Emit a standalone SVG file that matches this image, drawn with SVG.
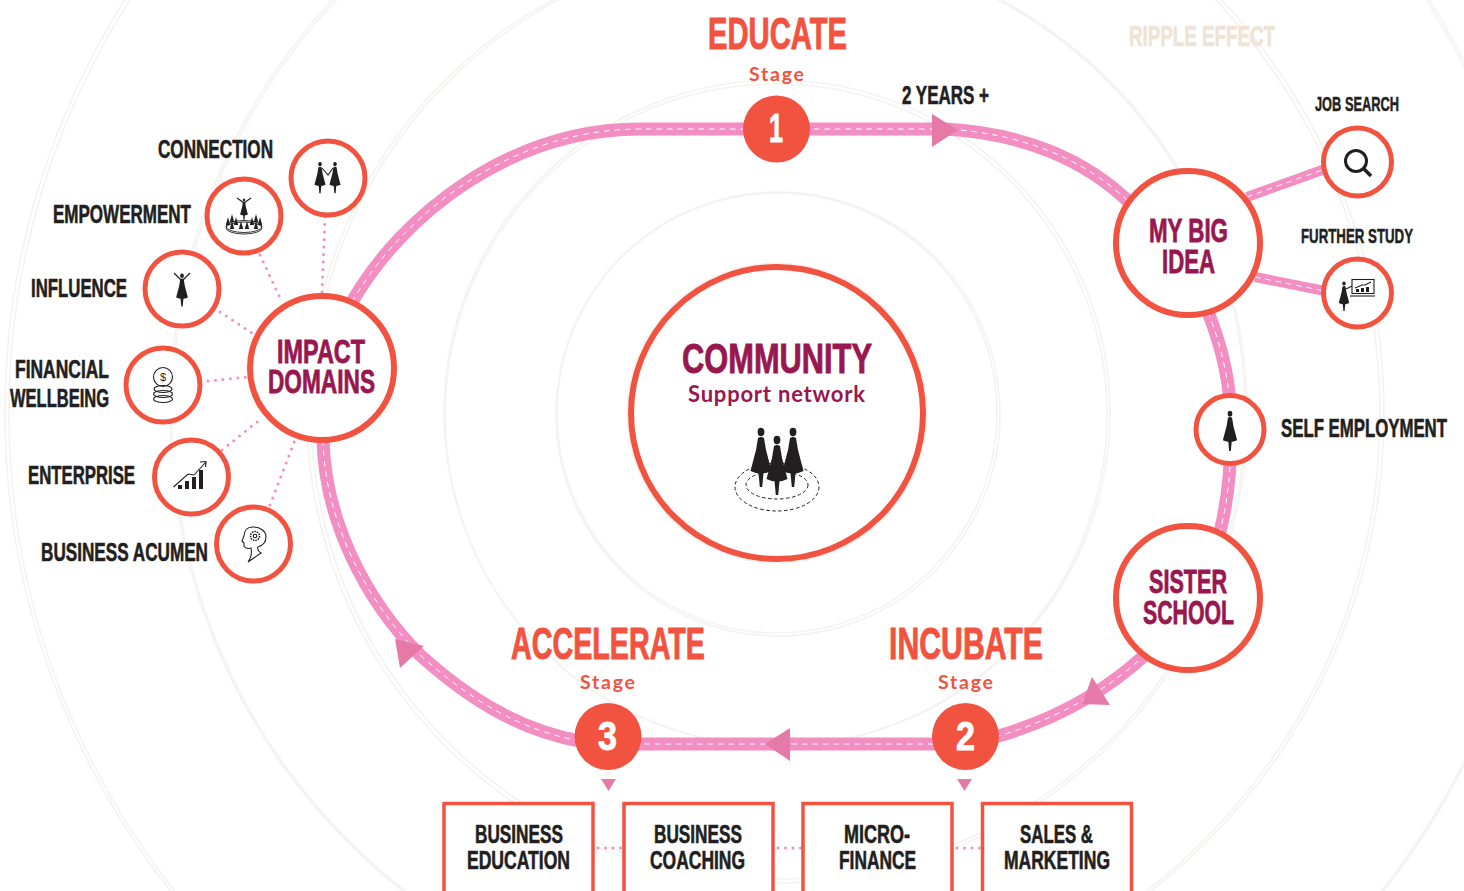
<svg xmlns="http://www.w3.org/2000/svg" xmlns:xlink="http://www.w3.org/1999/xlink" width="1464" height="891" viewBox="0 0 1464 891">
<style>
.rip{fill:none;stroke:#f4f3f1;stroke-width:1.7}
.road{fill:none;stroke:#f28ec1;stroke-width:13}
.dash{fill:none;stroke:#fff;stroke-width:1;stroke-dasharray:5.5 5}
.dot{fill:none;stroke:#f28ec1;stroke-width:3;stroke-linecap:round;stroke-dasharray:0 7.5}
.arr{fill:#e579a8}
.big{fill:#fff;stroke:#f15340;stroke-width:6}
.sm{fill:#fff;stroke:#f15340;stroke-width:5}
.st{fill:#f15340}
.box{fill:#fff;stroke:#f15340;stroke-width:3.5}
text{font-family:"Liberation Sans Narrow","Liberation Sans",Arial,sans-serif;font-weight:700}
.lb{font-size:25px;fill:#231f20;stroke:#231f20;stroke-width:.6}
.lbs{font-size:20px;fill:#231f20;stroke:#231f20;stroke-width:.5}
.hd{font-size:44px;fill:#f15340;stroke:#f15340;stroke-width:.9}
.nd{font-size:33px;fill:#98174f;stroke:#98174f;stroke-width:.8}
.sg{font-family:Lato,"Noto Sans",sans-serif;font-size:19.5px;fill:#f15340;font-weight:700}
.num{font-size:41px;fill:#fff;stroke:#fff;stroke-width:.9}
.ic{fill:#231f20}
.il{fill:none;stroke:#231f20;stroke-width:1.1}
</style>
<defs>
<g id="woman"><ellipse cx="0" cy="4" rx="3.400" ry="4.200"/><path d="M-3,10Q0,8 3,10L5,22L10.500,43Q0,48 -10.500,43L-5,22Z"/><path d="M-2.600,44L2.600,44L1.200,59L-1.200,59Z"/></g>
<path id="mini" d="M0,-7L2.200,1L-2.200,1Z"/>
</defs>

<g id="ripples">
<circle class="rip" cx="777" cy="413" r="150"/>
<circle class="rip" cx="777" cy="413" r="220"/><circle class="rip" cx="778" cy="414" r="222"/>
<circle class="rip" cx="777" cy="413" r="333"/><circle class="rip" cx="776" cy="415" r="331"/>
<circle class="rip" cx="777" cy="413" r="470"/><circle class="rip" cx="778" cy="412" r="467"/>
<circle class="rip" cx="777" cy="413" r="607"/><circle class="rip" cx="776" cy="414" r="604"/>
<circle class="rip" cx="777" cy="413" r="772"/><circle class="rip" cx="778" cy="414" r="769"/>
</g>

<g id="connectors">
<path class="road" d="M352,302C402,215 510,129 640,129L945,129C1020,133 1085,158 1132,205"/>
<path class="dash" d="M352,302C402,215 510,129 640,129L945,129C1020,133 1085,158 1132,205"/>
<path class="road" d="M1208,312C1224,352 1232,395 1231,432C1231,470 1228,500 1220,532"/>
<path class="dash" d="M1208,312C1224,352 1232,395 1231,432C1231,470 1228,500 1220,532"/>
<path class="road" d="M1146,654C1105,692 1055,720 995,737"/>
<path class="dash" d="M1146,654C1105,692 1055,720 995,737"/>
<path class="road" d="M965,744L608,744"/>
<path class="dash" d="M965,744L608,744"/>
<path class="road" d="M323,440C325,520 365,600 420,655C470,700 520,730 580,741"/>
<path class="dash" d="M323,440C325,520 365,600 420,655C470,700 520,730 580,741"/>
<path class="road" style="stroke-width:10" d="M1247,197L1325,169"/>
<path class="dash" d="M1247,197L1325,169"/>
<path class="road" style="stroke-width:10" d="M1255,277L1325,291"/>
<path class="dash" d="M1255,277L1325,291"/>
<path class="dot" d="M325,217L322,293"/>
<path class="dot" d="M260,255L282,302"/>
<path class="dot" d="M220,312L252,333"/>
<path class="dot" d="M208,381L247,377"/>
<path class="dot" d="M222,450L262,418"/>
<path class="dot" d="M270,505L295,440"/>
<path class="dot" d="M598,848L622,848"/>
<path class="dot" d="M778,848L801,848"/>
<path class="dot" d="M957,848L981,848"/>
<path class="arr" d="M932,114L932,147L958,130Z"/>
<path class="arr" d="M1092,677L1110,705L1082,704Z"/>
<path class="arr" d="M765,744L790,728L790,761Z"/>
<path class="arr" d="M395,639L424,646L400,668Z"/>
<path class="arr" d="M601,779L616,779L608.500,791Z"/>
<path class="arr" d="M957,779L972,779L964.500,791Z"/>
</g>

<g id="community">
<circle class="big" cx="777" cy="413" r="146"/>
<text x="682" y="373" style="font-size:43px;fill:#98174f;stroke:#98174f;stroke-width:.9" textLength="190" lengthAdjust="spacingAndGlyphs">COMMUNITY</text>
<text x="688" y="402" class="sg" style="font-size:22px;fill:#98174f" textLength="177">Support network</text>
<ellipse cx="777" cy="487" rx="42" ry="24" fill="none" stroke="#231f20" stroke-width="1" stroke-dasharray="3.500 2.500"/>
<ellipse cx="777" cy="485" rx="31" ry="14" fill="none" stroke="#231f20" stroke-width="1" stroke-dasharray="3.500 2.500"/>
<g class="ic"><use xlink:href="#woman" href="#woman" x="761" y="428"/><use xlink:href="#woman" href="#woman" x="793" y="428"/><use xlink:href="#woman" href="#woman" x="777" y="436"/></g>
</g>

<g id="impact-domains">
<circle class="big" cx="322" cy="368" r="72"/>
<text x="277" y="363" class="nd" textLength="88" lengthAdjust="spacingAndGlyphs">IMPACT</text>
<text x="268" y="393" class="nd" textLength="107" lengthAdjust="spacingAndGlyphs">DOMAINS</text>
</g>
<g id="my-big-idea">
<circle class="big" cx="1188" cy="243" r="72"/>
<text x="1149" y="242" class="nd" textLength="79" lengthAdjust="spacingAndGlyphs">MY BIG</text>
<text x="1162" y="273" class="nd" textLength="53" lengthAdjust="spacingAndGlyphs">IDEA</text>
</g>
<g id="sister-school">
<circle class="big" cx="1188" cy="598" r="72"/>
<text x="1149" y="593" class="nd" textLength="78" lengthAdjust="spacingAndGlyphs">SISTER</text>
<text x="1143" y="624" class="nd" textLength="91" lengthAdjust="spacingAndGlyphs">SCHOOL</text>
</g>

<g id="educate">
<text x="708" y="49" class="hd" textLength="139" lengthAdjust="spacingAndGlyphs">EDUCATE</text>
<text x="749" y="81" class="sg" textLength="55">Stage</text>
<circle class="st" cx="776.500" cy="129" r="33.500"/>
<text x="769" y="142" class="num" textLength="14" lengthAdjust="spacingAndGlyphs">1</text>
</g>
<g id="incubate">
<text x="889" y="659" class="hd" textLength="154" lengthAdjust="spacingAndGlyphs">INCUBATE</text>
<text x="938" y="689" class="sg" textLength="55">Stage</text>
<circle class="st" cx="965.500" cy="736.500" r="33.500"/>
<text x="956" y="750" class="num" textLength="19" lengthAdjust="spacingAndGlyphs">2</text>
</g>
<g id="accelerate">
<text x="511" y="659" class="hd" textLength="194" lengthAdjust="spacingAndGlyphs">ACCELERATE</text>
<text x="580" y="689" class="sg" textLength="55">Stage</text>
<circle class="st" cx="608" cy="736.500" r="33.500"/>
<text x="598" y="750" class="num" textLength="19" lengthAdjust="spacingAndGlyphs">3</text>
</g>

<text id="ripple-effect" x="1129" y="46" style="font-size:30px;fill:#efe3d6;stroke:#efe3d6;stroke-width:.7" textLength="146" lengthAdjust="spacingAndGlyphs">RIPPLE EFFECT</text>
<text id="years" x="902" y="104" class="lb" textLength="87" lengthAdjust="spacingAndGlyphs">2 YEARS +</text>

<g id="connection">
<circle class="sm" cx="328" cy="178" r="37"/>
<text x="158" y="158" class="lb" textLength="115" lengthAdjust="spacingAndGlyphs">CONNECTION</text>
<g class="ic" transform="translate(320,162) scale(.53)"><use xlink:href="#woman" href="#woman"/></g>
<g class="ic" transform="translate(335,162) scale(.53)"><use xlink:href="#woman" href="#woman"/></g>
<path class="il" d="M322,168L328,175L333,168"/>
</g>
<g id="empowerment">
<circle class="sm" cx="244" cy="216" r="37"/>
<text x="53" y="223" class="lb" textLength="138" lengthAdjust="spacingAndGlyphs">EMPOWERMENT</text>
<g class="ic" transform="translate(244,198.500) scale(.37)"><use xlink:href="#woman" href="#woman"/></g>
<path class="il" d="M244,203L237,198M244,203L251,198"/>
<ellipse cx="244" cy="226.500" rx="18" ry="6" fill="none" stroke="#231f20" stroke-width=".9"/>
<ellipse cx="244" cy="228" rx="18" ry="6" fill="none" stroke="#231f20" stroke-width=".9"/>
<g class="ic">
<use href="#mini" xlink:href="#mini" x="228" y="224"/><use href="#mini" xlink:href="#mini" x="232" y="221"/><use href="#mini" xlink:href="#mini" x="236" y="224"/><use href="#mini" xlink:href="#mini" x="241" y="228"/><use href="#mini" xlink:href="#mini" x="247" y="228"/><use href="#mini" xlink:href="#mini" x="252" y="224"/><use href="#mini" xlink:href="#mini" x="256" y="221"/><use href="#mini" xlink:href="#mini" x="260" y="224"/><use href="#mini" xlink:href="#mini" x="232" y="228"/><use href="#mini" xlink:href="#mini" x="256" y="228"/>
</g>
</g>
<g id="influence">
<circle class="sm" cx="182" cy="289" r="37"/>
<text x="31" y="297" class="lb" textLength="96" lengthAdjust="spacingAndGlyphs">INFLUENCE</text>
<g class="ic" transform="translate(182,273.500) scale(.56)"><use xlink:href="#woman" href="#woman"/></g>
<path d="M182,281L174,273M182,281L190,273" fill="none" stroke="#231f20" stroke-width="1.200"/>
</g>
<g id="financial-wellbeing">
<circle class="sm" cx="163" cy="385" r="37"/>
<text x="15" y="378" class="lb" textLength="94" lengthAdjust="spacingAndGlyphs">FINANCIAL</text>
<text x="10" y="407" class="lb" textLength="99" lengthAdjust="spacingAndGlyphs">WELLBEING</text>
<circle class="il" cx="163" cy="377" r="9.500"/>
<text x="163" y="381" text-anchor="middle" style="font-family:'Liberation Sans',sans-serif;font-weight:400;font-size:11px;fill:#231f20">$</text>
<ellipse class="il" cx="163" cy="389" rx="9" ry="3.500"/><ellipse class="il" cx="163" cy="394" rx="9.500" ry="3.500"/><ellipse class="il" cx="163" cy="399" rx="9.500" ry="3.500"/>
</g>
<g id="enterprise">
<circle class="sm" cx="191.500" cy="477" r="37"/>
<text x="28" y="484" class="lb" textLength="107" lengthAdjust="spacingAndGlyphs">ENTERPRISE</text>
<path class="ic" d="M178,489V485H182V489ZM185,489V481H189V489ZM192,489V477H196V489ZM199,489V470H203V489Z"/>
<path class="il" d="M173.500,487L188,474L194,475L206,462M200,462L206,461.500L205.500,467"/>
</g>
<g id="business-acumen">
<circle class="sm" cx="253.500" cy="544" r="37"/>
<text x="41" y="561" class="lb" textLength="167" lengthAdjust="spacingAndGlyphs">BUSINESS ACUMEN</text>
<path class="il" d="M248,562L261,553C258,551 257,549 258,547C264,545 266,541 266,537C266,531 260,527 253,527C247,527 244,531 244,536L242,541L244,543L244,546C245,548 248,549 251,548C252,553 251,558 248,562Z"/>
<circle cx="255" cy="536" r="4.500" fill="none" stroke="#231f20" stroke-width="1.500" stroke-dasharray="1.500 1"/>
<circle class="il" cx="255" cy="536" r="1.800"/>
</g>
<g id="job-search">
<circle class="sm" cx="1357.500" cy="162" r="34"/>
<text x="1315" y="111" class="lbs" textLength="84" lengthAdjust="spacingAndGlyphs">JOB SEARCH</text>
<circle cx="1356" cy="161" r="10.500" fill="none" stroke="#231f20" stroke-width="3"/>
<path d="M1364,169L1371,176" stroke="#231f20" stroke-width="3.500" fill="none"/>
</g>
<g id="further-study">
<circle class="sm" cx="1357.500" cy="293" r="34"/>
<text x="1301" y="243" class="lbs" textLength="112" lengthAdjust="spacingAndGlyphs">FURTHER STUDY</text>
<g class="ic" transform="translate(1344,281.500) scale(.5)"><use xlink:href="#woman" href="#woman"/></g>
<path class="il" d="M1346,289L1352,286"/>
<rect class="il" x="1352" y="279.500" width="22" height="14"/>
<path class="il" d="M1350,296H1375"/>
<path class="ic" d="M1356,292V289H1359V292ZM1361,292V288H1364V292ZM1366,292V287H1369V292Z"/>
<path class="il" d="M1355,288L1362,285L1365,285L1371,282"/>
</g>
<g id="self-employment">
<circle class="sm" cx="1230" cy="429.500" r="34"/>
<text x="1281" y="437" class="lb" textLength="166" lengthAdjust="spacingAndGlyphs">SELF EMPLOYMENT</text>
<g class="ic" transform="translate(1230,411) scale(.68)"><use xlink:href="#woman" href="#woman"/></g>
</g>

<g id="business-education">
<rect class="box" x="444" y="803.500" width="149" height="110"/>
<text x="475" y="843" class="lb" textLength="88" lengthAdjust="spacingAndGlyphs">BUSINESS</text>
<text x="467" y="869" class="lb" textLength="103" lengthAdjust="spacingAndGlyphs">EDUCATION</text>
</g>
<g id="business-coaching">
<rect class="box" x="624" y="803.500" width="149" height="110"/>
<text x="654" y="843" class="lb" textLength="88" lengthAdjust="spacingAndGlyphs">BUSINESS</text>
<text x="650" y="869" class="lb" textLength="95" lengthAdjust="spacingAndGlyphs">COACHING</text>
</g>
<g id="micro-finance">
<rect class="box" x="803" y="803.500" width="149" height="110"/>
<text x="844" y="843" class="lb" textLength="66" lengthAdjust="spacingAndGlyphs">MICRO-</text>
<text x="839" y="869" class="lb" textLength="77" lengthAdjust="spacingAndGlyphs">FINANCE</text>
</g>
<g id="sales-marketing">
<rect class="box" x="982.500" y="803.500" width="149" height="110"/>
<text x="1020" y="843" class="lb" textLength="73" lengthAdjust="spacingAndGlyphs">SALES &amp;</text>
<text x="1004" y="869" class="lb" textLength="106" lengthAdjust="spacingAndGlyphs">MARKETING</text>
</g>
</svg>
